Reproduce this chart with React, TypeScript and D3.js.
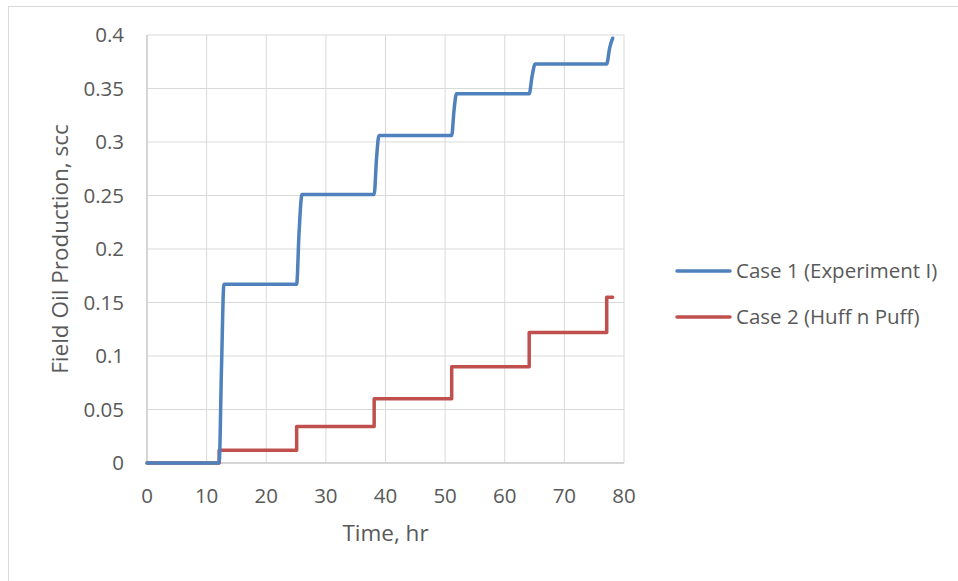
import * as d3 from 'd3';

// Case 1 (Experiment I): step-like cumulative production, time in hr
const case1Time = [0, 12.1, 12.5, 12.9, 25.1, 25.5, 26.0, 38.1, 38.5, 38.9, 51.1, 51.5, 51.9, 64.1, 64.6, 65.1, 77.1, 77.6, 78.1];
const case1Oil = [0, 0, 0.09, 0.167, 0.167, 0.215, 0.251, 0.251, 0.285, 0.306, 0.306, 0.33, 0.345, 0.345, 0.362, 0.373, 0.373, 0.388, 0.397];

// Case 2 (Huff n Puff)
const case2Time = [0, 12.1, 12.1, 25.1, 25.1, 38.1, 38.1, 51.1, 51.1, 64.1, 64.1, 77.1, 77.1, 78.1];
const case2Oil = [0, 0, 0.012, 0.012, 0.034, 0.034, 0.06, 0.06, 0.09, 0.09, 0.122, 0.122, 0.155, 0.155];

const xTicks = [0, 10, 20, 30, 40, 50, 60, 70, 80];
const yTicks = [0, 0.05, 0.1, 0.15, 0.2, 0.25, 0.3, 0.35, 0.4];

const seriesNames = ['Case 1 (Experiment I)', 'Case 2 (Huff n Puff)'];
const seriesColors = ['#4F81BD', '#C0504D'];

const W = 958;
const H = 581;
const plot = { left: 147, right: 624, top: 35, bottom: 463 };
const font = '"Open Sans", sans-serif';
const textColor = '#595959';
const tickSize = 20.5;
const titleSize = 22.5;

export default function App() {
  const x = d3.scaleLinear().domain([0, 80]).range([plot.left, plot.right]);
  const y = d3.scaleLinear().domain([0, 0.4]).range([plot.bottom, plot.top]);

  const smooth = d3.line<[number, number]>()
    .x(d => x(d[0]))
    .y(d => y(d[1]))
    .curve(d3.curveMonotoneX);
  const straight = d3.line<[number, number]>()
    .x(d => x(d[0]))
    .y(d => y(d[1]));

  const pts1 = case1Time.map((t, i) => [t, case1Oil[i]] as [number, number]);
  const pts2 = case2Time.map((t, i) => [t, case2Oil[i]] as [number, number]);

  const legendX = 677;
  const legendY = [271, 317];

  return (
    <svg
      width={W}
      height={H}
      style={{ position: 'absolute', left: 0, top: 0, background: '#fff' }}
      fontFamily={font}
    >
      {/* chart border */}
      <rect x={8.5} y={6.5} width={W + 10} height={H + 10} fill="none" stroke="#D9D9D9" />

      {/* grid */}
      {xTicks.map(t => (
        <line key={'gx' + t} x1={x(t)} x2={x(t)} y1={plot.top} y2={plot.bottom} stroke="#D9D9D9" strokeWidth={1} />
      ))}
      {yTicks.map(t => (
        <line key={'gy' + t} x1={plot.left} x2={plot.right} y1={y(t)} y2={y(t)} stroke="#D9D9D9" strokeWidth={1} />
      ))}
      <line x1={plot.left} x2={plot.left} y1={plot.top} y2={plot.bottom} stroke="#BFBFBF" />
      <line x1={plot.left} x2={plot.right} y1={plot.bottom} y2={plot.bottom} stroke="#BFBFBF" />

      {/* tick labels */}
      {yTicks.map(t => (
        <text key={'ty' + t} x={124} y={y(t)} dy="0.35em" textAnchor="end" fontSize={tickSize} fill={textColor}>
          {String(+t.toFixed(2))}
        </text>
      ))}
      {xTicks.map(t => (
        <text key={'tx' + t} x={x(t)} y={496} dy="0.35em" textAnchor="middle" fontSize={tickSize} fill={textColor}>
          {t}
        </text>
      ))}

      {/* axis titles */}
      <text x={(plot.left + plot.right) / 2} y={533} dy="0.35em" textAnchor="middle" fontSize={titleSize} fill={textColor}>
        Time, hr
      </text>
      <text
        transform={`translate(60,${(plot.top + plot.bottom) / 2}) rotate(-90)`}
        dy="0.35em"
        textAnchor="middle"
        fontSize={titleSize}
        fill={textColor}
      >
        Field Oil Production, scc
      </text>

      {/* series */}
      <path d={straight(pts2) || ''} fill="none" stroke={seriesColors[1]} strokeWidth={3.5} strokeLinejoin="round" strokeLinecap="round" />
      <path d={smooth(pts1) || ''} fill="none" stroke={seriesColors[0]} strokeWidth={3.5} strokeLinejoin="round" strokeLinecap="round" />

      {/* legend */}
      {seriesNames.map((name, i) => (
        <g key={name}>
          <line x1={legendX} x2={legendX + 53} y1={legendY[i]} y2={legendY[i]} stroke={seriesColors[i]} strokeWidth={3.5} strokeLinecap="round" />
          <text x={legendX + 59} y={legendY[i]} dy="0.35em" fontSize={tickSize} fill={textColor}>
            {name}
          </text>
        </g>
      ))}
    </svg>
  );
}
